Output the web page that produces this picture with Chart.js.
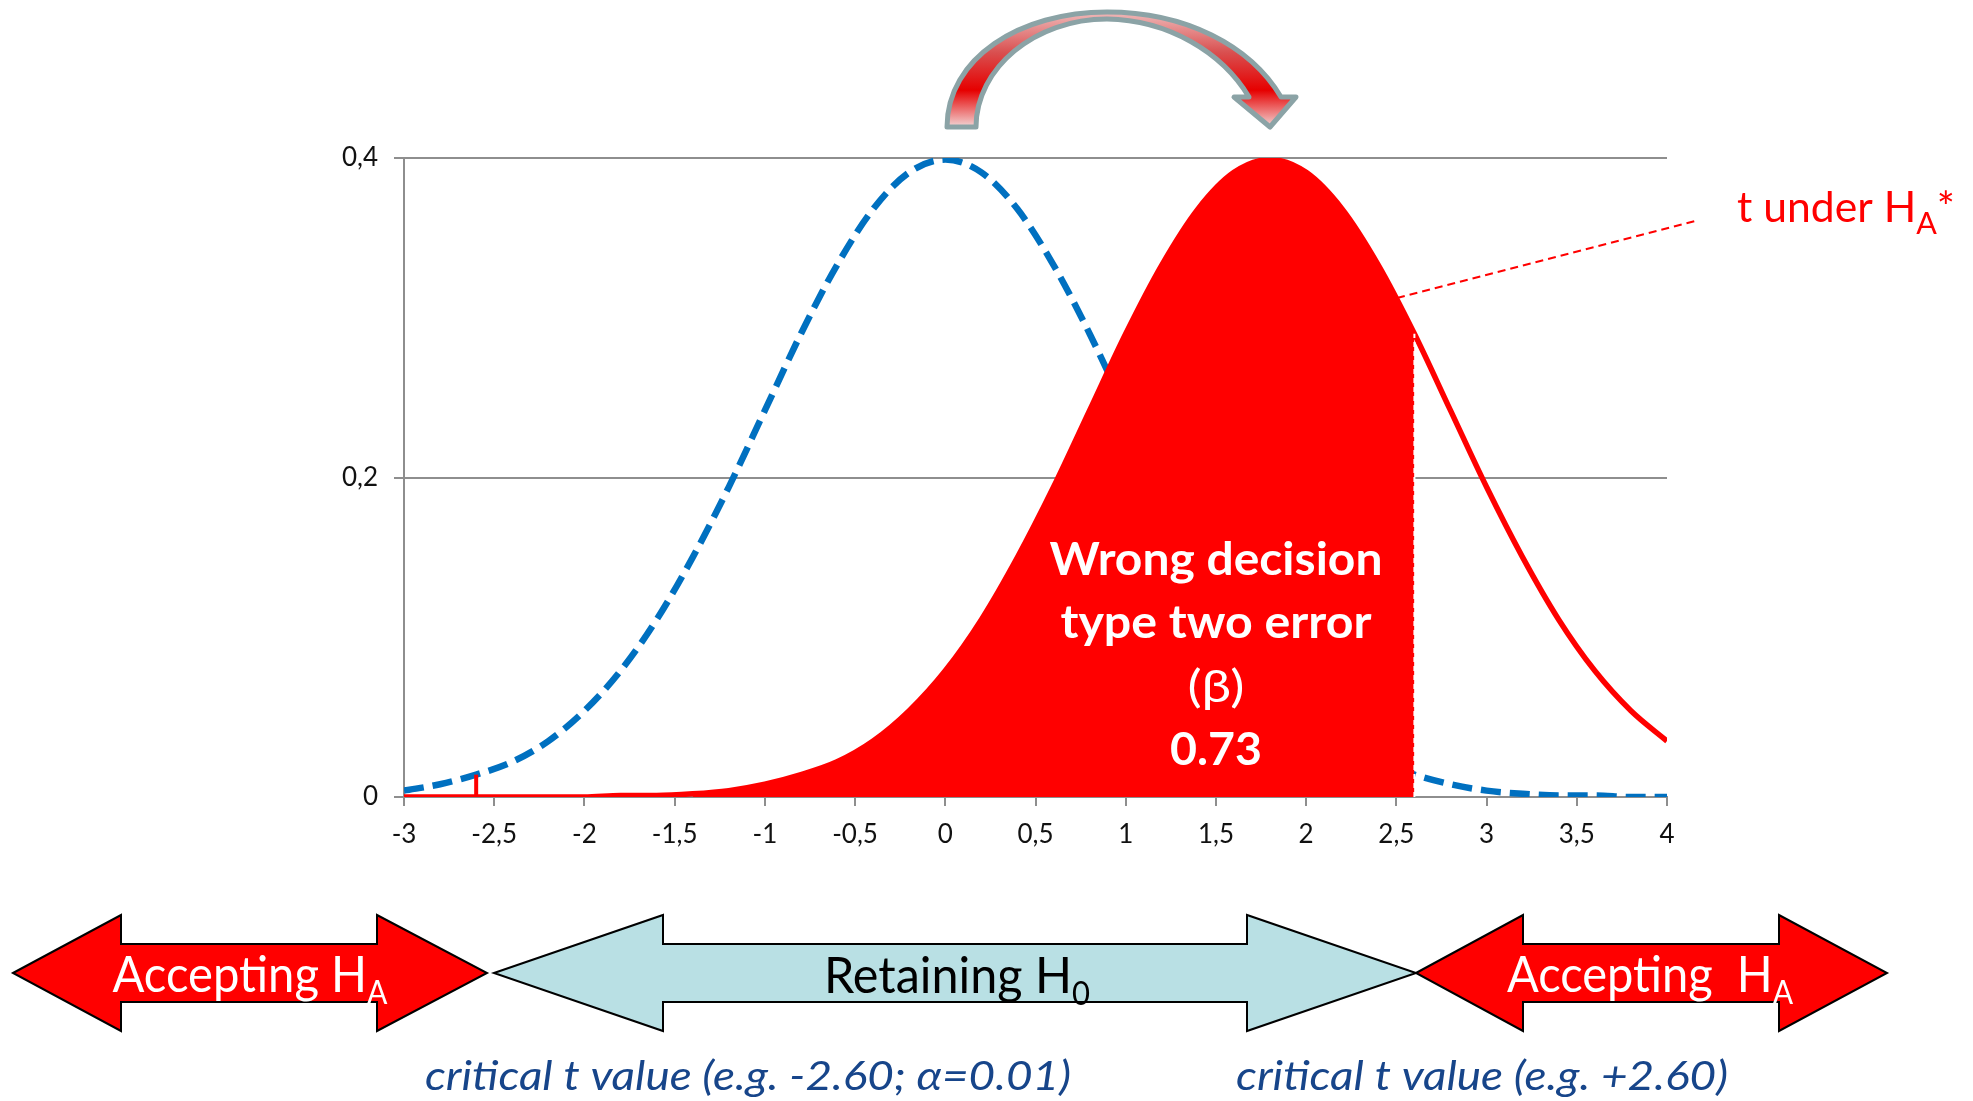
<!DOCTYPE html>
<html>
<head>
<meta charset="utf-8">
<title>Type II error (β) under H0 and HA</title>
<script src="https://cdn.jsdelivr.net/npm/chart.js@4/dist/chart.umd.min.js"></script>
<style>
  html, body { margin: 0; padding: 0; background: #ffffff; }
  #wrap { width: 1973px; height: 1101px; position: relative; }
</style>
</head>
<body>
<div id="wrap"><canvas id="chart" width="1973" height="1101"></canvas></div>
<script>
// t values sampled along the x axis
const xValues = [-3.0, -2.8, -2.6, -2.4, -2.2, -2.0, -1.8, -1.6, -1.4, -1.2, -1.0, -0.8,
                 -0.6, -0.4, -0.2, 0.0, 0.2, 0.4, 0.6, 0.8, 1.0, 1.2, 1.4, 1.6,
                 1.8, 2.0, 2.2, 2.4, 2.6, 2.8, 3.0, 3.2, 3.4, 3.6, 3.8, 4.0];

// density of t under H0 (blue dashed curve)
const densityH0 = [0.004, 0.008, 0.014, 0.022, 0.035, 0.054, 0.079, 0.111, 0.150, 0.194, 0.242, 0.290,
                   0.333, 0.368, 0.391, 0.399, 0.391, 0.368, 0.333, 0.290, 0.242, 0.194, 0.150, 0.111,
                   0.079, 0.054, 0.035, 0.022, 0.014, 0.008, 0.004, 0.002, 0.001, 0.001, 0.000, 0.000];

// density of t under HA (red curve)
const densityHA = [0.000, 0.000, 0.000, 0.000, 0.000, 0.000, 0.001, 0.001, 0.002, 0.004, 0.008, 0.014,
                   0.022, 0.035, 0.054, 0.079, 0.111, 0.150, 0.194, 0.242, 0.290, 0.333, 0.368, 0.391,
                   0.399, 0.391, 0.368, 0.333, 0.290, 0.242, 0.194, 0.150, 0.111, 0.079, 0.054, 0.035];

// critical t values (alpha = 0.01, two-sided)
const criticalLow = -2.6;
const criticalHigh = 2.6;
// left end of the shaded beta area
const betaFrom = -1.4;
const betaText = '0.73';

const xTicks = [-3, -2.5, -2, -1.5, -1, -0.5, 0, 0.5, 1, 1.5, 2, 2.5, 3, 3.5, 4];
const yTicks = [0, 0.2, 0.4];

const RED = '#ff0000';
const BLUE = '#0070c0';
const GRID = '#8e8e8e';
const FONT = 'Lato, "Open Sans", sans-serif';

const toPoints = (xs, ys) => xs.map((x, i) => ({ x: x, y: ys[i] }));

const iLow = xValues.indexOf(criticalLow);
const iHigh = xValues.indexOf(criticalHigh);
const iBeta = xValues.indexOf(betaFrom);

const betaPoints = toPoints(xValues.slice(iBeta, iHigh + 1), densityHA.slice(iBeta, iHigh + 1));

// draws a line of text built from runs (normal / subscript), squeezed to a given width
function drawRuns(ctx, runs, cx, baseline, width, color) {
  let total = 0;
  runs.forEach(r => { ctx.font = r.font; r.w = ctx.measureText(r.text).width; total += r.w; });
  const s = width ? width / total : 1;
  ctx.save();
  ctx.translate(cx, baseline);
  ctx.scale(s, 1);
  ctx.fillStyle = color;
  ctx.textBaseline = 'alphabetic';
  ctx.textAlign = 'left';
  let x = -total / 2;
  runs.forEach(r => { ctx.font = r.font; ctx.fillText(r.text, x, r.dy || 0); x += r.w; });
  ctx.restore();
}

// horizontal double-headed block arrow
function blockArrow(ctx, tipL, baseL, baseR, tipR, fill) {
  const yc = 973, headTop = 915, headBot = 1031, shaftTop = 944, shaftBot = 1002;
  ctx.beginPath();
  ctx.moveTo(tipL, yc);
  ctx.lineTo(baseL, headTop);
  ctx.lineTo(baseL, shaftTop);
  ctx.lineTo(baseR, shaftTop);
  ctx.lineTo(baseR, headTop);
  ctx.lineTo(tipR, yc);
  ctx.lineTo(baseR, headBot);
  ctx.lineTo(baseR, shaftBot);
  ctx.lineTo(baseL, shaftBot);
  ctx.lineTo(baseL, headBot);
  ctx.closePath();
  ctx.fillStyle = fill;
  ctx.fill();
  ctx.lineWidth = 2;
  ctx.strokeStyle = '#000000';
  ctx.lineJoin = 'miter';
  ctx.stroke();
}

const annotations = {
  id: 'annotations',
  afterDraw(chart) {
    const ctx = chart.ctx;
    const xs = chart.scales.x;
    ctx.save();

    // leader line to the HA label
    ctx.strokeStyle = RED;
    ctx.lineWidth = 2;
    ctx.setLineDash([8, 5]);
    ctx.beginPath();
    ctx.moveTo(1397, 298);
    ctx.lineTo(1699, 220);
    ctx.stroke();
    ctx.setLineDash([]);

    drawRuns(ctx, [
      { text: 't under H', font: '42px ' + FONT },
      { text: 'A', font: '30px ' + FONT, dy: 12 },
      { text: '*', font: '42px ' + FONT }
    ], 1846, 222, 218, RED);

    // label inside the beta area
    const cx = xs.getPixelForValue(1.5);
    drawRuns(ctx, [{ text: 'Wrong decision', font: 'bold 45px ' + FONT }], cx, 575, 333, '#ffffff');
    drawRuns(ctx, [{ text: 'type two error', font: 'bold 45px ' + FONT }], cx, 638, 311, '#ffffff');
    drawRuns(ctx, [{ text: '(β)', font: '45px ' + FONT }], cx, 702, 57, '#ffffff');
    drawRuns(ctx, [{ text: betaText, font: 'bold 45px ' + FONT }], cx, 765, 92, '#ffffff');

    // curved arrow from the H0 peak to the HA peak
    const grad = ctx.createLinearGradient(0, 12, 0, 127);
    grad.addColorStop(0, '#efb9b9');
    grad.addColorStop(0.35, '#d95050');
    grad.addColorStop(0.68, '#e60000');
    grad.addColorStop(1, '#f2d6d6');
    ctx.beginPath();
    ctx.moveTo(947, 127);
    ctx.bezierCurveTo(947, 58, 1020, 12, 1107, 12);
    ctx.bezierCurveTo(1185, 12, 1250, 45, 1281, 97);
    ctx.lineTo(1296, 97);
    ctx.lineTo(1270, 127);
    ctx.lineTo(1234, 97);
    ctx.lineTo(1249, 97);
    ctx.bezierCurveTo(1222, 52, 1168, 20, 1107, 19);
    ctx.bezierCurveTo(1035, 19, 976, 68, 976, 127);
    ctx.closePath();
    ctx.fillStyle = grad;
    ctx.fill();
    ctx.lineWidth = 5;
    ctx.lineJoin = 'round';
    ctx.strokeStyle = '#8ba3a6';
    ctx.stroke();

    // decision regions
    blockArrow(ctx, 13, 121, 377, 487, RED);
    blockArrow(ctx, 494, 663, 1247, 1416, '#b9e0e4');
    blockArrow(ctx, 1416, 1523, 1779, 1887, RED);

    drawRuns(ctx, [
      { text: 'Accepting H', font: '50px ' + FONT },
      { text: 'A', font: '32px ' + FONT, dy: 12 }
    ], 250, 992, 275, '#ffffff');
    drawRuns(ctx, [
      { text: 'Retaining H', font: '50px ' + FONT },
      { text: '0', font: '32px ' + FONT, dy: 12 }
    ], 957, 993, 266, '#000000');
    drawRuns(ctx, [
      { text: 'Accepting  H', font: '50px ' + FONT },
      { text: 'A', font: '32px ' + FONT, dy: 12 }
    ], 1650, 992, 286, '#ffffff');

    drawRuns(ctx, [{ text: 'critical t value (e.g. -2.60; α=0.01)', font: 'italic 40px ' + FONT }],
      748, 1090, 646, '#17458a');
    drawRuns(ctx, [{ text: 'critical t value (e.g. +2.60)', font: 'italic 40px ' + FONT }],
      1482, 1090, 492, '#17458a');

    ctx.restore();
  }
};

const commaLabel = v => String(v).replace('.', ',');

new Chart(document.getElementById('chart'), {
  type: 'line',
  data: {
    datasets: [
      {
        label: 'critical value +',
        data: [{ x: criticalHigh, y: 0 }, { x: criticalHigh, y: densityHA[iHigh] }],
        borderColor: '#ffffff', borderWidth: 2, borderDash: [5, 4],
        pointRadius: 0, fill: false
      },
      {
        label: 'critical value -',
        data: [{ x: criticalLow, y: 0 }, { x: criticalLow, y: densityH0[iLow] }],
        borderColor: RED, borderWidth: 4,
        pointRadius: 0, fill: false
      },
      {
        label: 't under HA',
        data: toPoints(xValues, densityHA),
        borderColor: RED, borderWidth: 5.5,
        cubicInterpolationMode: 'monotone',
        pointRadius: 0, fill: false
      },
      {
        label: 'beta',
        data: betaPoints,
        borderWidth: 0, borderColor: 'rgba(0,0,0,0)',
        backgroundColor: RED,
        cubicInterpolationMode: 'monotone',
        pointRadius: 0, fill: 'origin'
      },
      {
        label: 't under H0',
        data: toPoints(xValues, densityH0),
        borderColor: BLUE, borderWidth: 6.5, borderDash: [20, 9],
        cubicInterpolationMode: 'monotone',
        pointRadius: 0, fill: false
      }
    ]
  },
  options: {
    responsive: false,
    animation: false,
    devicePixelRatio: 1,
    layout: { padding: { left: 0, top: 158, right: 306, bottom: 0 } },
    plugins: { legend: { display: false }, tooltip: { enabled: false } },
    scales: {
      x: {
        type: 'linear',
        min: -3, max: 4,
        afterBuildTicks: s => { s.ticks = xTicks.map(v => ({ value: v })); },
        afterFit: s => { s.height = 304; },
        ticks: {
          callback: commaLabel, color: '#111111', padding: 13,
          font: { family: FONT, size: 26 }, maxRotation: 0, autoSkip: false
        },
        grid: { drawOnChartArea: false, drawTicks: true, tickLength: 9, color: GRID, lineWidth: 2 },
        border: { display: true, color: GRID, width: 2 }
      },
      y: {
        min: 0, max: 0.4,
        afterBuildTicks: s => { s.ticks = yTicks.map(v => ({ value: v })); },
        afterFit: s => { s.width = 404; },
        ticks: {
          callback: commaLabel, color: '#111111', padding: 16,
          font: { family: FONT, size: 26 }
        },
        grid: { drawTicks: true, tickLength: 10, color: GRID, lineWidth: 2 },
        border: { display: true, color: GRID, width: 2 }
      }
    }
  },
  plugins: [annotations]
});
</script>
</body>
</html>
